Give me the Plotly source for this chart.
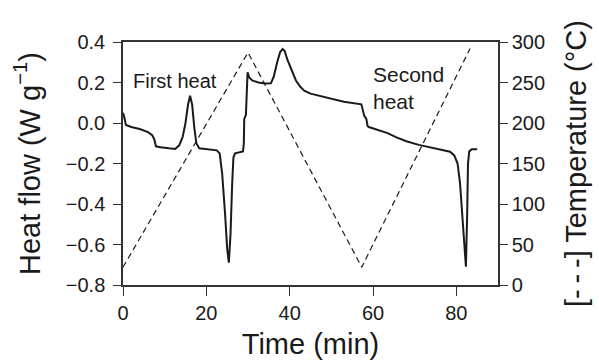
import plotly.graph_objects as go

# DSC heat flow trace (W/g) against time (min)
time_min = [0.0, 0.3, 0.7, 2.0, 4.0, 6.0, 7.0, 7.5, 7.9, 9.0, 11.0, 12.5, 13.5, 14.3,
            15.0, 15.6, 16.1, 16.6, 17.1, 17.6, 18.3, 20.0, 22.5, 23.2, 23.8, 24.5,
            25.0, 25.4, 25.8, 26.2, 26.5, 26.9, 28.8, 29.0, 29.1, 29.5, 29.7, 29.9,
            30.3, 31.0, 32.5, 34.0, 35.5, 36.2, 37.0, 37.7, 38.3, 38.8, 39.5, 40.5,
            41.5, 42.5, 43.5, 45.0, 47.0, 50.0, 53.0, 57.2, 57.4, 57.9, 58.4, 58.7,
            59.0, 61.5, 63.5, 65.5, 68.0, 71.0, 74.0, 76.7, 78.5, 79.5, 80.3, 80.9,
            81.4, 81.9, 82.3, 82.6, 82.8, 83.1, 83.7, 85.0]
heat_flow = [0.05, 0.03, -0.01, -0.02, -0.03, -0.045, -0.06, -0.08, -0.115, -0.12,
             -0.125, -0.128, -0.11, -0.07, 0.0, 0.09, 0.135, 0.09, -0.02, -0.10,
             -0.125, -0.13, -0.135, -0.15, -0.25, -0.45, -0.62, -0.69, -0.55, -0.30,
             -0.17, -0.15, -0.14, -0.10, 0.02, 0.04, 0.15, 0.25, 0.225, 0.21, 0.20,
             0.195, 0.196, 0.23, 0.30, 0.35, 0.365, 0.355, 0.31, 0.255, 0.21, 0.18,
             0.16, 0.145, 0.135, 0.12, 0.105, 0.092, 0.07, 0.035, 0.02, -0.015,
             -0.02, -0.035, -0.05, -0.07, -0.09, -0.108, -0.122, -0.132, -0.142,
             -0.16, -0.2, -0.3, -0.45, -0.62, -0.71, -0.45, -0.2, -0.14, -0.13, -0.13]

# Temperature programme: heat, cool, heat again
temp_time = [0.0, 30.0, 57.3, 83.3]
temp_c = [22, 287, 22, 292]

x_ticks = [0, 20, 40, 60, 80]
hf_ticks = [-0.8, -0.6, -0.4, -0.2, 0.0, 0.2, 0.4]
temp_ticks = [0, 50, 100, 150, 200, 250, 300]

FONT = "Liberation Sans, Arial, sans-serif"
INK = "#1a1a1a"
AXIS = "#333333"

fig = go.Figure()
fig.add_trace(go.Scatter(x=time_min, y=heat_flow, mode="lines",
                         line=dict(color=INK, width=2), yaxis="y",
                         showlegend=False, hoverinfo="skip"))
fig.add_trace(go.Scatter(x=temp_time, y=temp_c, mode="lines",
                         line=dict(color=INK, width=1.2, dash="6px,4px"),
                         yaxis="y2", showlegend=False, hoverinfo="skip"))

fig.add_annotation(x=2.0, y=0.207, xref="x", yref="y", text="First heat",
                   showarrow=False, xanchor="left", yanchor="middle",
                   font=dict(family=FONT, size=20, color=INK))
fig.add_annotation(x=59.5, y=0.172, xref="x", yref="y", text="Second<br>heat",
                   showarrow=False, xanchor="left", yanchor="middle", align="left",
                   font=dict(family=FONT, size=21, color=INK))

fig.update_layout(
    width=599, height=360,
    margin=dict(l=123, r=100.5, t=42, b=75, autoexpand=False),
    paper_bgcolor="white", plot_bgcolor="white",
    font=dict(family=FONT, color=INK),
    xaxis=dict(range=[0, 90], tickvals=x_ticks, ticks="outside", ticklen=9,
               tickwidth=1.3, tickcolor=AXIS, showline=True, linecolor=AXIS,
               linewidth=1.5, mirror=True, showgrid=False, zeroline=False,
               tickfont=dict(size=20, family=FONT, color=INK),
               title=dict(text="Time (min)", standoff=12,
                          font=dict(size=29, family=FONT, color=INK))),
    yaxis=dict(range=[-0.8, 0.4], tickvals=hf_ticks, tickformat=".1f",
               ticks="outside", ticklen=8, tickwidth=1.3, tickcolor=AXIS,
               showline=True, linecolor=AXIS, linewidth=1.5, showgrid=False,
               zeroline=False, ticklabelstandoff=4,
               tickfont=dict(size=20, family=FONT, color=INK),
               title=dict(text="Heat flow (W g<sup>\u22121</sup>)", standoff=17,
                          font=dict(size=29, family=FONT, color=INK))),
    yaxis2=dict(range=[0, 300], tickvals=temp_ticks, overlaying="y", side="right",
                ticks="outside", ticklen=8, tickwidth=1.3, tickcolor=AXIS,
                showline=True, linecolor=AXIS, linewidth=1.5, showgrid=False,
                zeroline=False, tickfont=dict(size=20, family=FONT, color=INK),
                title=dict(text="[-\u2009-\u2009-] Temperature (\u00b0C)", standoff=22,
                           font=dict(size=29, family=FONT, color=INK))),
)

fig.write_html("out.html")
